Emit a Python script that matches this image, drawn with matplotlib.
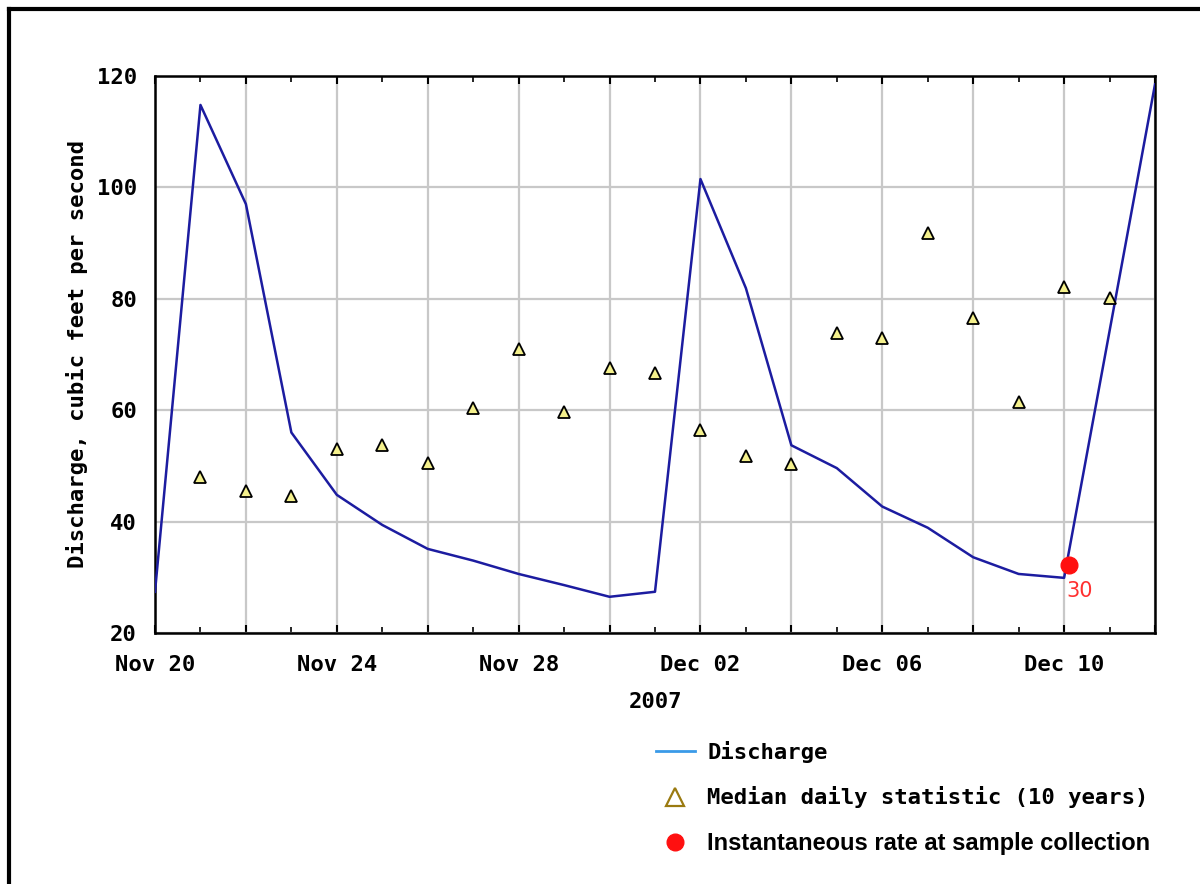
import numpy as np
import matplotlib
matplotlib.use("Agg")
import matplotlib.pyplot as plt
import matplotlib.dates as mdates
from matplotlib.lines import Line2D
from matplotlib.font_manager import FontProperties
from datetime import datetime, timedelta

# discharge, cubic feet per second
q_dates = ["2007-11-20", "2007-11-21", "2007-11-22", "2007-11-23", "2007-11-24",
           "2007-11-25", "2007-11-26", "2007-11-27", "2007-11-28", "2007-11-29",
           "2007-11-30", "2007-12-01", "2007-12-02", "2007-12-03", "2007-12-04",
           "2007-12-05", "2007-12-06", "2007-12-07", "2007-12-08", "2007-12-09",
           "2007-12-10", "2007-12-12"]
q_vals = [27.4, 114.8, 97.0, 56.0, 44.8, 39.4, 35.1, 33.0, 30.6, 28.6,
          26.5, 27.4, 101.5, 81.9, 53.7, 49.6, 42.7, 38.9, 33.6, 30.6,
          29.9, 118.5]

# median daily statistic (10 years)
med_dates = ["2007-11-21", "2007-11-22", "2007-11-23", "2007-11-24", "2007-11-25",
             "2007-11-26", "2007-11-27", "2007-11-28", "2007-11-29", "2007-11-30",
             "2007-12-01", "2007-12-02", "2007-12-03", "2007-12-04", "2007-12-05",
             "2007-12-06", "2007-12-07", "2007-12-08", "2007-12-09", "2007-12-10",
             "2007-12-11"]
med_vals = [48.0, 45.5, 44.6, 53.0, 53.8, 50.5, 60.4, 71.0, 59.7, 67.6,
            66.7, 56.4, 51.8, 50.3, 73.9, 73.0, 91.9, 76.6, 61.4, 82.1, 80.1]

# sample collection
samp_date = "2007-12-10 02:30"
samp_val = 32.2
samp_label = "30"

yticks = [20, 40, 60, 80, 100, 120]
xtick_labels = ["Nov 20", "", "Nov 24", "", "Nov 28", "", "Dec 02", "",
                "Dec 06", "", "Dec 10", ""]

to_dt = lambda s: [datetime.fromisoformat(d) for d in s]
qx = to_dt(q_dates)
mx = to_dt(med_dates)
sx = datetime.fromisoformat(samp_date)
start = datetime(2007, 11, 20)
xticks = [start + timedelta(days=2 * i) for i in range(len(xtick_labels))]

mono = FontProperties(family="DejaVu Sans Mono", weight="bold", size=16)

fig = plt.figure(figsize=(12, 8.84), dpi=100)
ax = fig.add_axes([155/1200, 1-633/884, 1000/1200, 557/884])

ax.plot(qx, q_vals, color="#1c1ca0", lw=1.8, zorder=3)
ax.plot(mx, med_vals, ls="none", marker="^", ms=9, mfc="#f4f08c",
        mec="black", mew=1.3, zorder=4)
ax.plot([sx], [samp_val], ls="none", marker="o", ms=12, color="#ff1010", zorder=5)
ax.annotate(samp_label, (sx, samp_val), xytext=(-2, -19), textcoords="offset points",
            color="#ff3030", fontsize=15, ha="left", va="center")

ax.set_xlim(start, datetime(2007, 12, 12))
ax.set_ylim(20, 120)
ax.set_yticks(yticks)
ax.set_yticklabels([str(v) for v in yticks], fontproperties=mono)
ax.set_xticks(xticks)
ax.set_xticklabels(xtick_labels, fontproperties=mono)
ax.xaxis.set_minor_locator(mdates.DayLocator())
ax.grid(color="#c8c8c8", lw=1.6, zorder=1)
ax.set_axisbelow(True)

ax.tick_params(axis="x", which="both", direction="in", top=True, pad=16)
ax.tick_params(axis="x", which="major", length=6, width=1.5)
ax.tick_params(axis="x", which="minor", length=4, width=1.2)
ax.tick_params(axis="y", length=0, pad=13)
for s in ax.spines.values():
    s.set_linewidth(1.8)

ax.set_xlabel("2007", fontproperties=mono, labelpad=12)
ax.set_ylabel("Discharge, cubic feet per second", fontproperties=mono, labelpad=6)

handles = [
    Line2D([], [], color="#3a9ae8", lw=2),
    Line2D([], [], ls="none", marker="^", ms=13, mfc="white", mec="#9a7a10", mew=1.6),
    Line2D([], [], ls="none", marker="o", ms=12, color="#ff1010"),
]
labels = ["Discharge", "Median daily statistic (10 years)",
          "Instantaneous rate at sample collection"]
leg = fig.legend(handles, labels, loc="upper left", bbox_to_anchor=(656/1200, 1-741/884),
                 frameon=False, prop=mono, handlelength=1.75, handletextpad=0.55,
                 labelspacing=1.05, borderpad=0, borderaxespad=0)
leg.get_texts()[2].set_fontproperties(
    FontProperties(family="Liberation Sans", weight="bold", size=17))

# outer frame (left and top edges)
fig.add_artist(Line2D([8.5/1200, 8.5/1200], [0, 1-8.5/884], color="black", lw=3,
                      transform=fig.transFigure))
fig.add_artist(Line2D([8.5/1200, 1], [1-8.5/884, 1-8.5/884], color="black", lw=3,
                      transform=fig.transFigure))

fig.savefig("out.png", dpi=100)
